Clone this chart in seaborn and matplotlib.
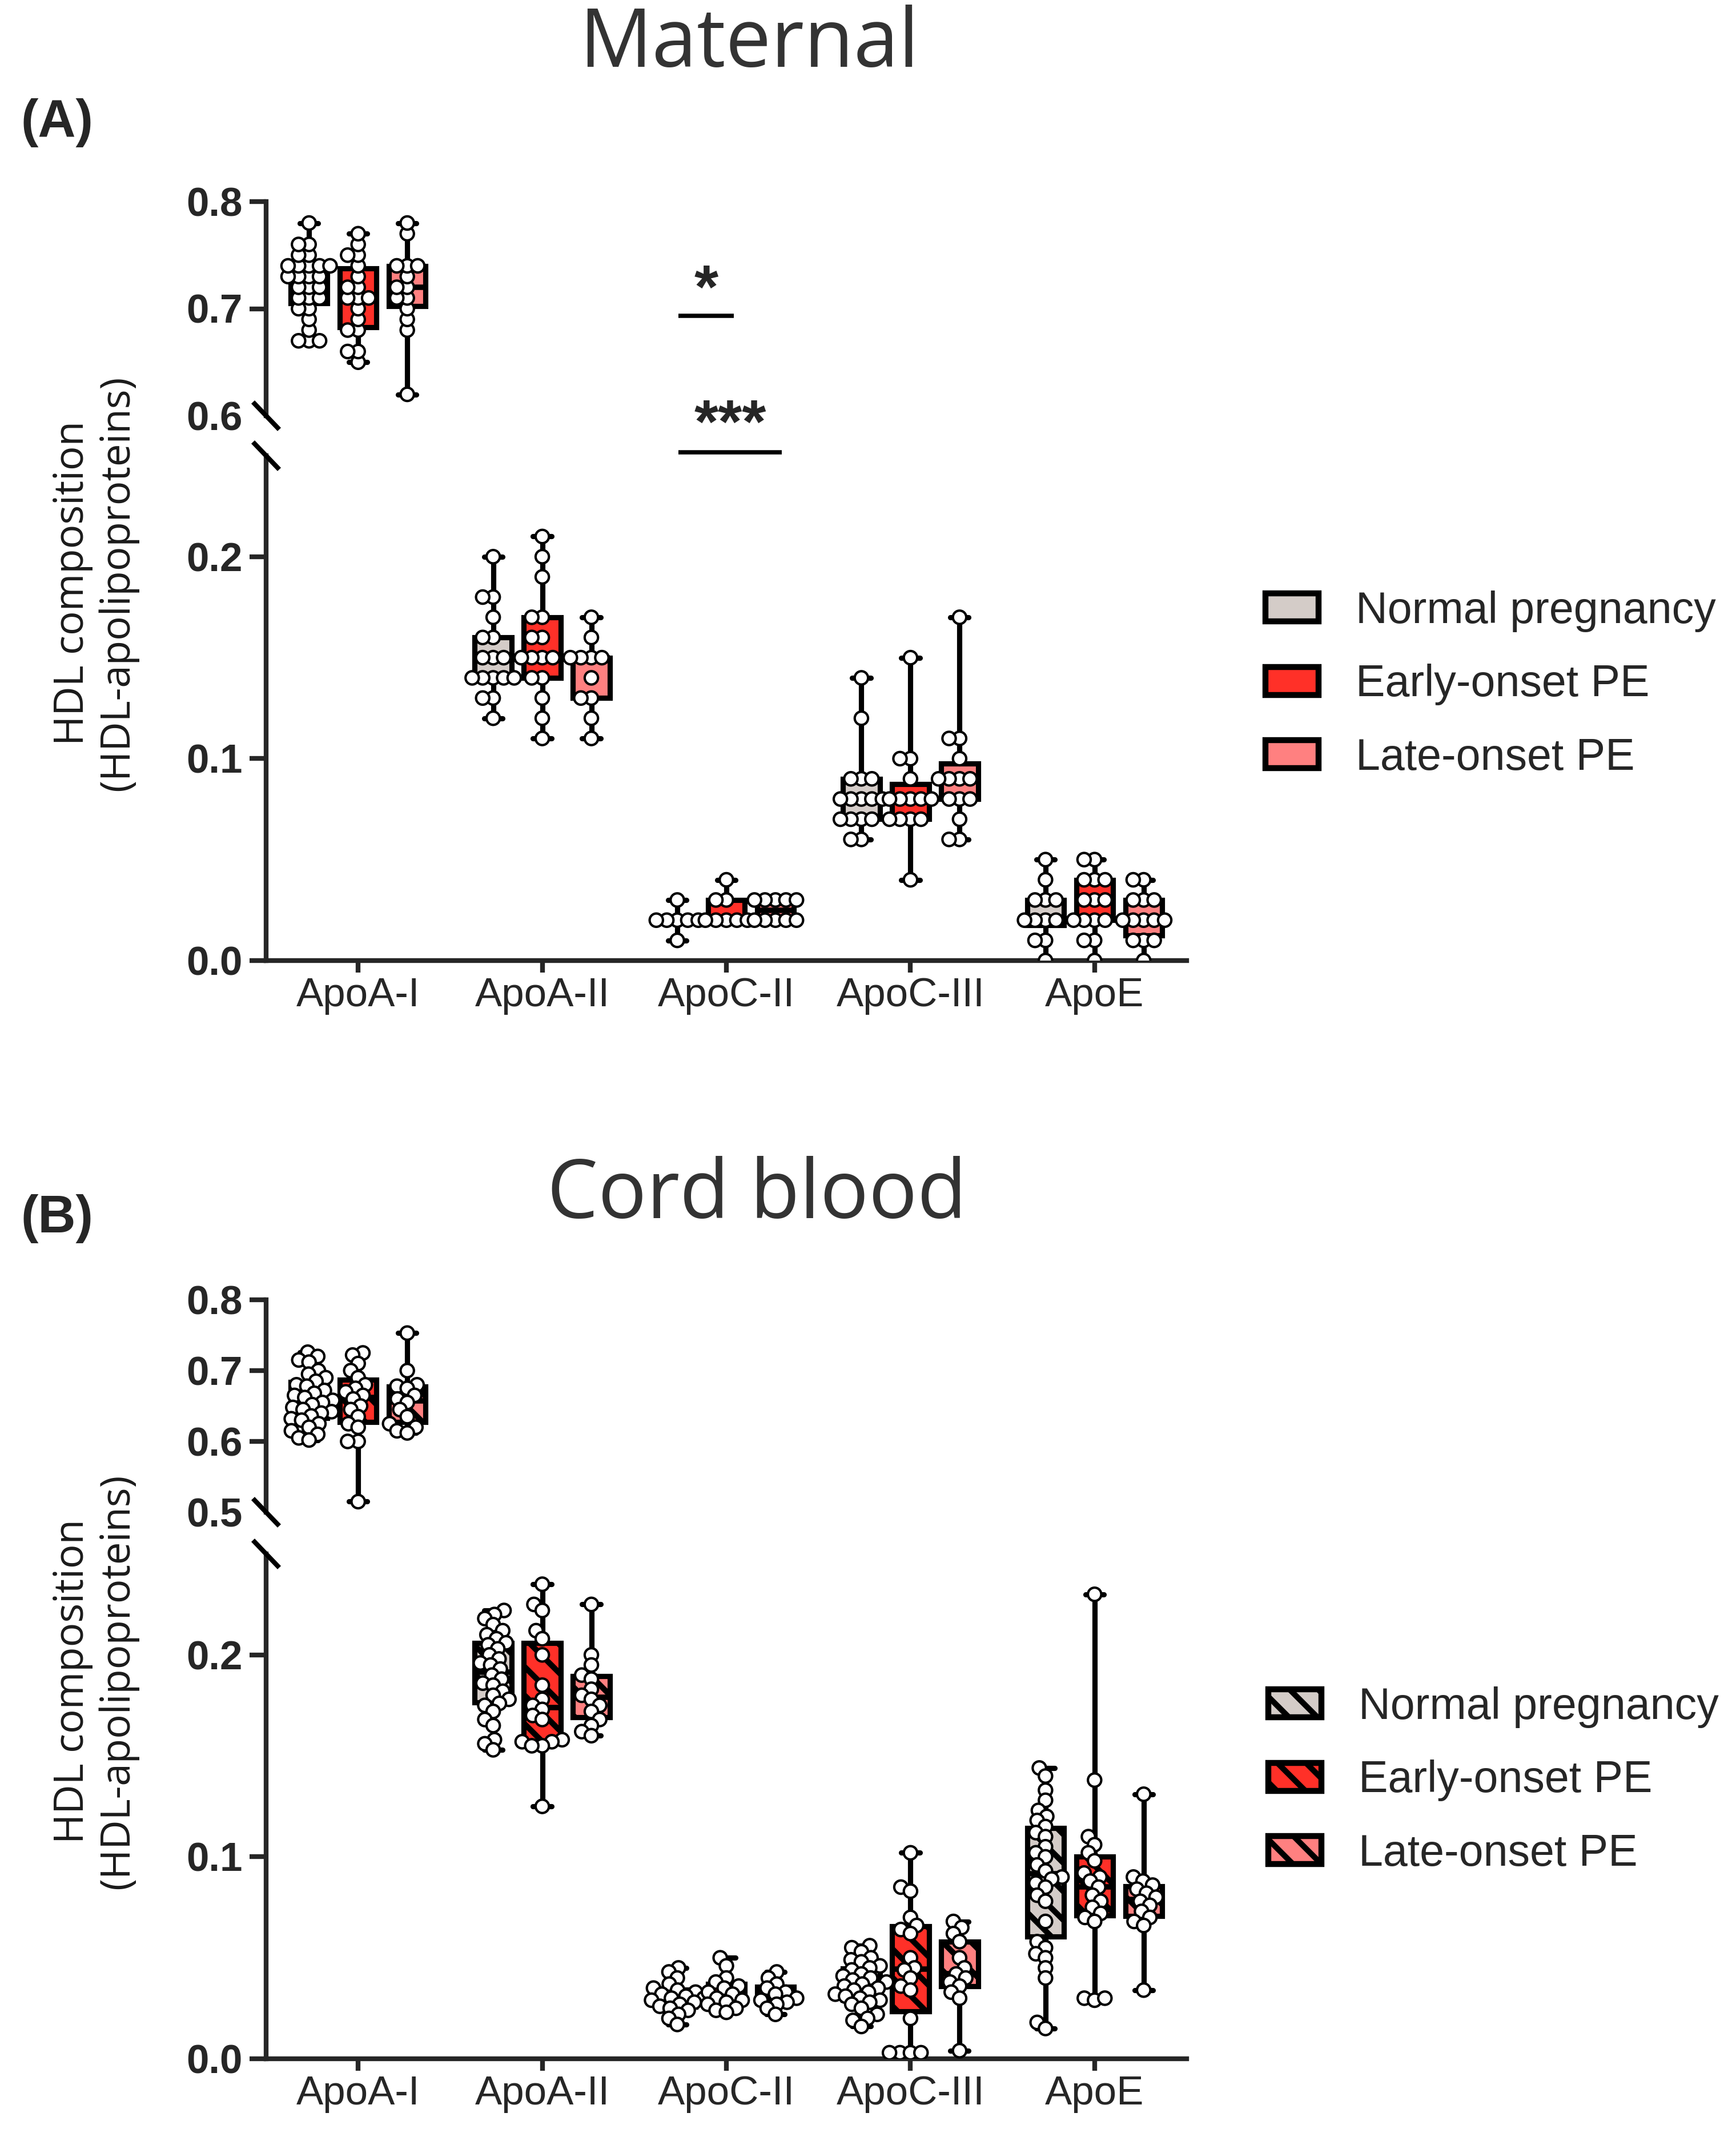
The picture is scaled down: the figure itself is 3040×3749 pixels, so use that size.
import pandas as pd
import matplotlib.pyplot as plt
import seaborn as sns
from matplotlib.patches import Patch
from matplotlib.lines import Line2D
from matplotlib.markers import MarkerStyle
from matplotlib.transforms import Affine2D
from matplotlib.ticker import FormatStrFormatter

# --- DATA ---
proteins = ["ApoA-I", "ApoA-II", "ApoC-II", "ApoC-III", "ApoE"]
groups = ["Normal pregnancy", "Early-onset PE", "Late-onset PE"]
group_colors = ["#d4ccc8", "#ff3028", "#ff8080"]

# Maternal plasma
mat_np_apoa1 = [0.67, 0.67, 0.67, 0.68, 0.69, 0.70, 0.70, 0.71, 0.71, 0.71, 0.72, 0.72, 0.72, 0.73,
                0.73, 0.73, 0.73, 0.74, 0.74, 0.74, 0.74, 0.74, 0.75, 0.75, 0.76, 0.76, 0.78]
mat_eo_apoa1 = [0.65, 0.66, 0.66, 0.68, 0.68, 0.69, 0.70, 0.71, 0.71, 0.71, 0.72, 0.72, 0.73, 0.74,
                0.75, 0.75, 0.76, 0.77]
mat_lo_apoa1 = [0.62, 0.68, 0.69, 0.70, 0.71, 0.71, 0.72, 0.72, 0.73, 0.74, 0.74, 0.74, 0.77, 0.78]

mat_np_apoa2 = [0.12, 0.13, 0.13, 0.14, 0.14, 0.14, 0.14, 0.14, 0.15, 0.15, 0.15, 0.16, 0.16, 0.17,
                0.18, 0.18, 0.20]
mat_eo_apoa2 = [0.11, 0.12, 0.13, 0.14, 0.14, 0.15, 0.15, 0.15, 0.15, 0.16, 0.16, 0.17, 0.17, 0.19,
                0.20, 0.21]
mat_lo_apoa2 = [0.11, 0.12, 0.13, 0.13, 0.14, 0.15, 0.15, 0.15, 0.15, 0.16, 0.17]

mat_np_apoc2 = [0.01, 0.02, 0.02, 0.02, 0.02, 0.02, 0.03]
mat_eo_apoc2 = [0.02, 0.02, 0.02, 0.02, 0.02, 0.03, 0.03, 0.04]
mat_lo_apoc2 = [0.02, 0.02, 0.02, 0.02, 0.02, 0.03, 0.03, 0.03, 0.03, 0.03]

mat_np_apoc3 = [0.06, 0.06, 0.07, 0.07, 0.07, 0.07, 0.08, 0.08, 0.08, 0.08, 0.08, 0.09, 0.09, 0.09,
                0.12, 0.14]
mat_eo_apoc3 = [0.04, 0.07, 0.07, 0.07, 0.07, 0.08, 0.08, 0.08, 0.08, 0.08, 0.09, 0.10, 0.10, 0.15]
mat_lo_apoc3 = [0.06, 0.06, 0.07, 0.08, 0.08, 0.08, 0.09, 0.09, 0.09, 0.09, 0.10, 0.11, 0.11, 0.17]

mat_np_apoe = [0.00, 0.01, 0.01, 0.02, 0.02, 0.02, 0.02, 0.03, 0.03, 0.03, 0.04, 0.05]
mat_eo_apoe = [0.00, 0.01, 0.01, 0.02, 0.02, 0.02, 0.02, 0.03, 0.03, 0.03, 0.04, 0.04, 0.04, 0.05, 0.05]
mat_lo_apoe = [0.00, 0.01, 0.01, 0.01, 0.02, 0.02, 0.02, 0.02, 0.02, 0.03, 0.03, 0.03, 0.04, 0.04]

# Cord blood
cord_np_apoa1 = [0.726, 0.720, 0.715, 0.712, 0.700, 0.695, 0.690, 0.685, 0.680, 0.678, 0.672, 0.668,
                 0.665, 0.662, 0.658, 0.655, 0.652, 0.648, 0.645, 0.642, 0.640, 0.636, 0.632, 0.630,
                 0.625, 0.620, 0.615, 0.610, 0.605, 0.602]
cord_eo_apoa1 = [0.725, 0.722, 0.710, 0.700, 0.690, 0.680, 0.675, 0.670, 0.665, 0.660, 0.650, 0.645,
                 0.635, 0.625, 0.620, 0.600, 0.600, 0.515]
cord_lo_apoa1 = [0.753, 0.700, 0.680, 0.678, 0.675, 0.665, 0.660, 0.655, 0.645, 0.635, 0.625, 0.620,
                 0.615, 0.612]

cord_np_apoa2 = [0.222, 0.220, 0.218, 0.215, 0.212, 0.210, 0.208, 0.206, 0.205, 0.203, 0.200, 0.198,
                 0.196, 0.195, 0.193, 0.190, 0.188, 0.186, 0.185, 0.182, 0.180, 0.178, 0.176, 0.175,
                 0.172, 0.168, 0.165, 0.158, 0.156, 0.153]
cord_eo_apoa2 = [0.235, 0.225, 0.222, 0.212, 0.208, 0.200, 0.185, 0.178, 0.175, 0.173, 0.170, 0.168,
                 0.158, 0.157, 0.157, 0.155, 0.155, 0.125]
cord_lo_apoa2 = [0.225, 0.200, 0.195, 0.190, 0.188, 0.183, 0.180, 0.178, 0.175, 0.172, 0.168, 0.165,
                 0.162, 0.160]

cord_np_apoc2 = [0.045, 0.043, 0.040, 0.037, 0.035, 0.034, 0.033, 0.032, 0.031, 0.030, 0.030, 0.029,
                 0.028, 0.027, 0.026, 0.025, 0.024, 0.022, 0.020, 0.017]
cord_eo_apoc2 = [0.050, 0.046, 0.040, 0.038, 0.036, 0.035, 0.033, 0.032, 0.030, 0.029, 0.028, 0.027,
                 0.025, 0.024, 0.023]
cord_lo_apoc2 = [0.043, 0.040, 0.037, 0.035, 0.033, 0.032, 0.030, 0.029, 0.028, 0.027, 0.025, 0.022]

cord_np_apoc3 = [0.056, 0.055, 0.053, 0.050, 0.049, 0.048, 0.046, 0.045, 0.044, 0.042, 0.041, 0.040,
                 0.039, 0.038, 0.037, 0.036, 0.035, 0.034, 0.033, 0.032, 0.031, 0.030, 0.029, 0.028,
                 0.027, 0.025, 0.022, 0.020, 0.019, 0.016]
cord_eo_apoc3 = [0.102, 0.085, 0.083, 0.070, 0.066, 0.064, 0.062, 0.050, 0.045, 0.044, 0.040, 0.036,
                 0.034, 0.020, 0.003, 0.003, 0.003, 0.003]
cord_lo_apoc3 = [0.068, 0.065, 0.062, 0.058, 0.050, 0.045, 0.042, 0.040, 0.038, 0.036, 0.033, 0.030,
                 0.004]

cord_np_apoe = [0.144, 0.140, 0.133, 0.128, 0.123, 0.120, 0.118, 0.115, 0.112, 0.110, 0.105, 0.102,
                0.100, 0.096, 0.093, 0.090, 0.089, 0.087, 0.085, 0.081, 0.078, 0.068, 0.058, 0.055,
                0.052, 0.050, 0.045, 0.040, 0.018, 0.015]
cord_eo_apoe = [0.230, 0.138, 0.110, 0.106, 0.102, 0.098, 0.092, 0.090, 0.088, 0.085, 0.081, 0.078,
                0.075, 0.072, 0.070, 0.068, 0.030, 0.029, 0.030]
cord_lo_apoe = [0.131, 0.090, 0.088, 0.086, 0.084, 0.082, 0.080, 0.078, 0.076, 0.073, 0.070, 0.068,
                0.066, 0.034]

maternal = {
    "Normal pregnancy": [mat_np_apoa1, mat_np_apoa2, mat_np_apoc2, mat_np_apoc3, mat_np_apoe],
    "Early-onset PE": [mat_eo_apoa1, mat_eo_apoa2, mat_eo_apoc2, mat_eo_apoc3, mat_eo_apoe],
    "Late-onset PE": [mat_lo_apoa1, mat_lo_apoa2, mat_lo_apoc2, mat_lo_apoc3, mat_lo_apoe],
}
cord = {
    "Normal pregnancy": [cord_np_apoa1, cord_np_apoa2, cord_np_apoc2, cord_np_apoc3, cord_np_apoe],
    "Early-onset PE": [cord_eo_apoa1, cord_eo_apoa2, cord_eo_apoc2, cord_eo_apoc3, cord_eo_apoe],
    "Late-onset PE": [cord_lo_apoa1, cord_lo_apoa2, cord_lo_apoc2, cord_lo_apoc3, cord_lo_apoe],
}


def to_long(table):
    rows = []
    for grp, lists in table.items():
        for prot, vals in zip(proteins, lists):
            for v in vals:
                rows.append({"group": grp, "protein": prot, "value": v})
    return pd.DataFrame(rows)


df_mat = to_long(maternal)
df_cord = to_long(cord)

# --- STYLE ---
sns.set_style("ticks")
plt.rcParams["font.family"] = ["Liberation Sans", "DejaVu Sans"]
plt.rcParams["hatch.linewidth"] = 2.4
plt.rcParams["axes.linewidth"] = 2.0

W, H = 3040, 3749
fig = plt.figure(figsize=(W / 300, H / 300), dpi=300)


def rect(left, top, right, bottom):
    # pixel box -> figure fraction
    return [left / W, 1 - bottom / H, (right - left) / W, (bottom - top) / H]


LEFT, RIGHT = 466, 2078
axA_top = fig.add_axes(rect(LEFT, 353, RIGHT, 728))
axA_bot = fig.add_axes(rect(LEFT, 798, RIGHT, 1682))
axB_top = fig.add_axes(rect(LEFT, 2276, RIGHT, 2648))
axB_bot = fig.add_axes(rect(LEFT, 2721, RIGHT, 3605))

# the swarm is laid out with small dots, then the dots are drawn bigger so they overlap
SWARM_SIZE = 3.2
DOT_SCALE = 1.75
base = MarkerStyle("o")
big_dot = base.get_path().transformed(base.get_transform() + Affine2D().scale(DOT_SCALE))


def draw(ax, df, hatch=None):
    sns.boxplot(data=df, x="protein", y="value", hue="group", order=proteins, hue_order=groups,
                palette=group_colors, saturation=1, width=0.8, gap=0.25, whis=(0, 100),
                linecolor="black", linewidth=2.2, fliersize=0, legend=False, ax=ax,
                medianprops=dict(linewidth=2.3))
    if hatch:
        for p in ax.patches:
            p.set_hatch(hatch)
    n_before = len(ax.collections)
    sns.swarmplot(data=df, x="protein", y="value", hue="group", order=proteins, hue_order=groups,
                  palette=["white"] * 3, dodge=True, size=SWARM_SIZE, edgecolor="black",
                  linewidth=1.0, legend=False, warn_thresh=1, zorder=4, ax=ax)
    for coll in ax.collections[n_before:]:
        coll.set_paths([big_dot])
    ax.set_xlim(-0.5, 4.5)
    ax.set_xlabel("")
    ax.set_ylabel("")
    sns.despine(ax=ax)
    ax.yaxis.set_major_formatter(FormatStrFormatter("%.1f"))
    ax.tick_params(axis="y", length=7, width=2, pad=3, labelsize=17)
    ax.tick_params(axis="x", length=5, width=2, pad=2, labelsize=17)


def style_top(ax, lo, hi, ticks):
    ax.set_ylim(lo, hi)
    ax.set_yticks(ticks)
    for lab in ax.get_yticklabels():
        lab.set_fontweight("bold")
    ax.spines["bottom"].set_visible(False)
    ax.tick_params(axis="x", bottom=False, labelbottom=False)
    ax.yaxis.get_major_ticks()[0].tick1line.set_visible(False)


def style_bot(ax):
    ax.set_ylim(0, 0.25)
    ax.set_yticks([0.0, 0.1, 0.2])
    for lab in ax.get_yticklabels():
        lab.set_fontweight("bold")


def slash(x_px, y_px):
    dx, dy = 23 / W, 24 / H
    x0, y0 = x_px / W, 1 - y_px / H
    fig.add_artist(Line2D([x0 - dx, x0 + dx], [y0 + dy, y0 - dy], transform=fig.transFigure,
                          color="black", lw=2.0, solid_capstyle="butt"))


# Panel A
draw(axA_top, df_mat)
draw(axA_bot, df_mat)
style_top(axA_top, 0.6, 0.8, [0.6, 0.7, 0.8])
style_bot(axA_bot)
slash(LEFT, 728)
slash(LEFT, 798)

# Panel B (hatched boxes)
draw(axB_top, df_cord, hatch="\\\\")
draw(axB_bot, df_cord, hatch="\\\\")
style_top(axB_top, 0.5, 0.8, [0.5, 0.6, 0.7, 0.8])
style_bot(axB_bot)
slash(LEFT, 2648)
slash(LEFT, 2721)

# significance marks on ApoC-II (maternal)
axA_top.plot([1.74, 2.04], [0.6933, 0.6933], color="black", lw=1.8, clip_on=False,
             solid_capstyle="butt")
axA_top.text(1.89, 0.716, "*", ha="center", va="center", fontsize=26, fontweight="bold")
axA_bot.plot([1.74, 2.30], [0.2518, 0.2518], color="black", lw=1.8, clip_on=False,
             solid_capstyle="butt")
axA_bot.text(2.02, 0.2645, "***", ha="center", va="center", fontsize=26, fontweight="bold",
             clip_on=False)

# titles, panel letters, y labels
for xtxt, ytxt, title in [(1312, 79, "Maternal"), (1325, 2095, "Cord blood")]:
    fig.text(xtxt / W, 1 - ytxt / H, title, ha="center", va="center", fontsize=34,
             family=["Open Sans", "DejaVu Sans"], color="#333333")
for ytxt, letter in [(215, "(A)"), (2134, "(B)")]:
    fig.text(100 / W, 1 - ytxt / H, letter, ha="center", va="center", fontsize=22,
             fontweight="bold")
for ytxt in [1021, 2944]:
    fig.text(167 / W, 1 - ytxt / H, "HDL composition\n(HDL-apolipoproteins)", rotation=90,
             ha="center", va="center", multialignment="center", fontsize=17, linespacing=1.15,
             family=["Open Sans", "DejaVu Sans"], color="#1a1a1a")

# legends
for ax, ycen, xleft, hatch in [(axA_bot, 1199, 2216, None), (axB_bot, 3118, 2221, "\\\\")]:
    handles = [Patch(facecolor=c, edgecolor="black", linewidth=2.5, hatch=hatch)
               for c in group_colors]
    ax.legend(handles, groups, loc="center left", bbox_to_anchor=(xleft / W, 1 - ycen / H),
              bbox_transform=fig.transFigure, frameon=False, fontsize=18.5, handlelength=1.2,
              handleheight=0.6, handletextpad=0.85, labelspacing=0.72, borderpad=0,
              borderaxespad=0)

plt.savefig("out.png", dpi=300)
plt.close()
